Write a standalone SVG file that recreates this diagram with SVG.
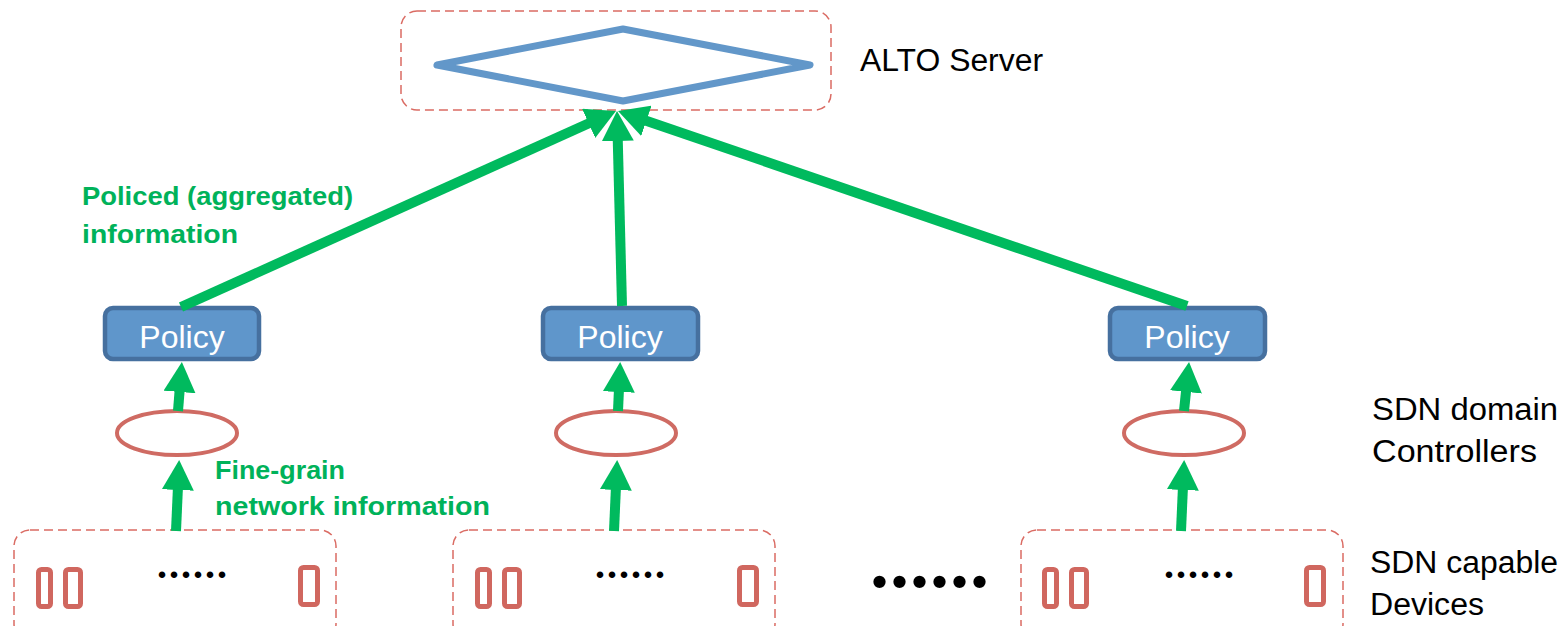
<svg xmlns="http://www.w3.org/2000/svg" width="1565" height="626" viewBox="0 0 1565 626">
<defs>
<style>
.dash{fill:none;stroke:#DA6B63;stroke-width:1.5;stroke-dasharray:9 5}
.pol rect{fill:#5F96CB;stroke:#46709F;stroke-width:4.5}
.pol text{fill:#FFFFFF;font-family:"Liberation Sans",Arial,sans-serif;font-size:32px;text-anchor:middle}
.ctl{fill:none;stroke:#CF6B63;stroke-width:4}
.dev{fill:none;stroke:#D0675F;stroke-width:5}
.lbl{fill:#000000;font-family:"Liberation Sans",Arial,sans-serif;font-size:31px}
.glbl{fill:#00B25A;font-family:"Liberation Sans",Arial,sans-serif;font-size:25px;font-weight:bold}
.dots{fill:#000000;font-family:"Liberation Serif","Times New Roman",serif;font-weight:bold}
.arr{stroke:#00BA5E;stroke-width:10;fill:none;marker-end:url(#ah)}
</style>
<marker id="ah" viewBox="0 0 30 32" refX="15" refY="16" markerWidth="30" markerHeight="32" markerUnits="userSpaceOnUse" orient="auto">
<path d="M0,0 L30,16 L0,32 z" fill="#00BA5E"/>
</marker>
</defs>

<g id="alto-server">
<rect class="dash" x="401" y="11" width="430" height="99" rx="16"/>
<polygon points="437,65 623,29 810,65 623,101" fill="none" stroke="#6297C9" stroke-width="7" stroke-linejoin="round"/>
<text class="lbl" x="860" y="71" textLength="183" lengthAdjust="spacingAndGlyphs">ALTO Server</text>
</g>

<g id="policy-1" class="pol"><rect x="105" y="308" width="154" height="51" rx="8"/><text x="182" y="348">Policy</text></g>
<g id="policy-2" class="pol"><rect x="543" y="308" width="155" height="51" rx="8"/><text x="620" y="348">Policy</text></g>
<g id="policy-3" class="pol"><rect x="1110" y="308" width="155" height="51" rx="8"/><text x="1187" y="348">Policy</text></g>

<g id="controller-1"><ellipse class="ctl" cx="177" cy="433" rx="60" ry="22"/></g>
<g id="controller-2"><ellipse class="ctl" cx="616" cy="433" rx="60" ry="22"/></g>
<g id="controller-3"><ellipse class="ctl" cx="1184" cy="433" rx="60" ry="22"/></g>

<g id="devices-1">
<rect class="dash" x="14" y="530" width="322" height="110" rx="16"/>
<rect class="dev" x="38.5" y="569.5" width="12" height="37" rx="3"/>
<rect class="dev" x="65.5" y="569.5" width="15" height="37" rx="3"/>
<rect class="dev" x="300.5" y="567.5" width="17" height="37" rx="3"/>
<text class="dots" x="157" y="578" font-size="40" letter-spacing="2">......</text>
</g>
<g id="devices-2">
<rect class="dash" x="453" y="530" width="322" height="110" rx="16"/>
<rect class="dev" x="477.5" y="569.5" width="12" height="37" rx="3"/>
<rect class="dev" x="504.5" y="569.5" width="15" height="37" rx="3"/>
<rect class="dev" x="739.5" y="567.5" width="17" height="37" rx="3"/>
<text class="dots" x="595" y="578" font-size="40" letter-spacing="2">......</text>
</g>
<g id="devices-3">
<rect class="dash" x="1021" y="530" width="322" height="110" rx="16"/>
<rect class="dev" x="1044.5" y="569.5" width="12" height="37" rx="3"/>
<rect class="dev" x="1071.5" y="569.5" width="15" height="37" rx="3"/>
<rect class="dev" x="1306.5" y="567.5" width="17" height="37" rx="3"/>
<text class="dots" x="1164" y="578" font-size="40" letter-spacing="2">......</text>
</g>

<g id="between-dots"><text class="dots" x="870" y="587" font-size="76" letter-spacing="1">......</text></g>

<g id="connectors">
<line class="arr" x1="181" y1="307" x2="602.3" y2="117.2"/>
<line class="arr" x1="622" y1="306" x2="617.4" y2="126"/>
<line class="arr" x1="1187" y1="306" x2="632.2" y2="115.9"/>
<line class="arr" x1="178" y1="411" x2="180.7" y2="377"/>
<line class="arr" x1="618" y1="411" x2="619.5" y2="377"/>
<line class="arr" x1="1184" y1="411" x2="1187.5" y2="377"/>
<line class="arr" x1="176" y1="531" x2="178.5" y2="475"/>
<line class="arr" x1="614" y1="531" x2="616.5" y2="475"/>
<line class="arr" x1="1181" y1="531" x2="1183.5" y2="475"/>
</g>

<g id="labels">
<text class="glbl" x="82" y="205" textLength="271" lengthAdjust="spacingAndGlyphs">Policed (aggregated)</text>
<text class="glbl" x="82" y="243" textLength="156" lengthAdjust="spacingAndGlyphs">information</text>
<text class="glbl" x="215" y="479" textLength="130" lengthAdjust="spacingAndGlyphs">Fine-grain</text>
<text class="glbl" x="215" y="515" textLength="275" lengthAdjust="spacingAndGlyphs">network information</text>
<text class="lbl" x="1372" y="420" textLength="186" lengthAdjust="spacingAndGlyphs">SDN domain</text>
<text class="lbl" x="1372" y="462" textLength="165" lengthAdjust="spacingAndGlyphs">Controllers</text>
<text class="lbl" x="1370" y="573" textLength="188" lengthAdjust="spacingAndGlyphs">SDN capable</text>
<text class="lbl" x="1370" y="615" textLength="114" lengthAdjust="spacingAndGlyphs">Devices</text>
</g>
</svg>
